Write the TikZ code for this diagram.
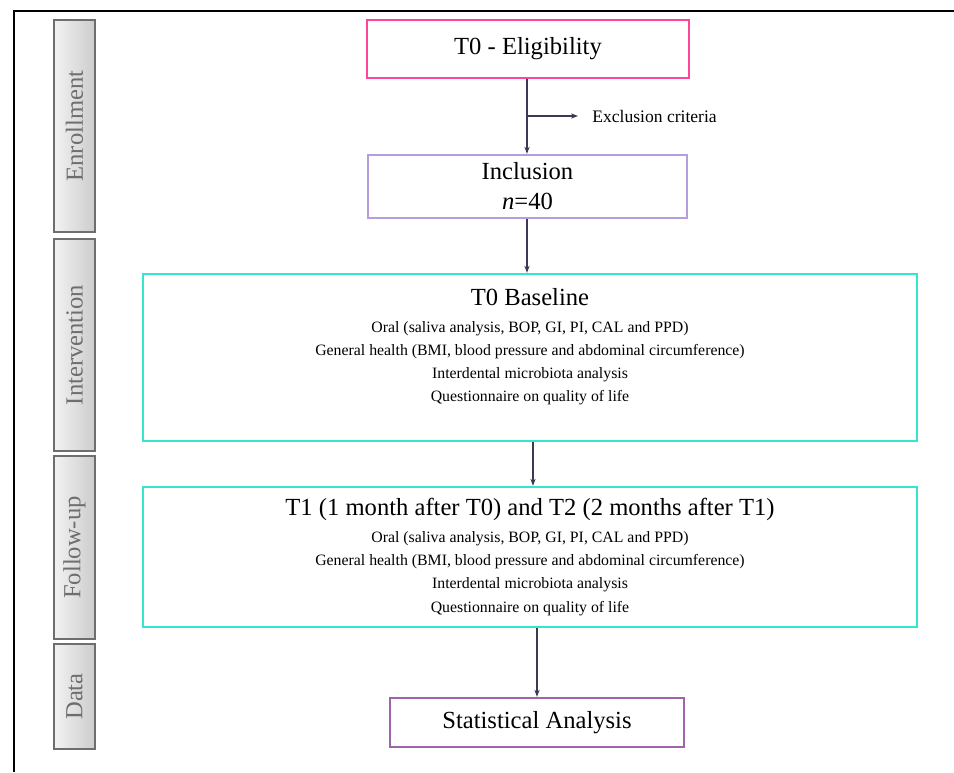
\documentclass[tikz,border=0pt]{standalone}
\usepackage{fontspec}
\setmainfont{Liberation Serif}
\usetikzlibrary{arrows.meta}
\usetikzlibrary{positioning}
\usetikzlibrary{fit}

\begin{document}
\begin{tikzpicture}[x=0.02cm, y=-0.02cm,
    %Option for small arrows
    >={Stealth[length=4pt,width=3pt]}, %
    flow/.style={->,color=flowline,line width=0.6pt},
    stepbox/.style={draw=#1, line width=1.4pt, align=center, inner sep=0pt,
        font=\fontsize{14}{17}\selectfont},
    phase/.style={draw=phaseline, line width=0.7pt, rotate=90, inner sep=0pt,
        left color=gray!10, right color=gray!40, minimum height=0.82cm,
        text=phaseline, font=\fontsize{14}{17}\selectfont},
    listtext/.style={align=center, inner sep=0pt, font=\fontsize{9}{13.2}\selectfont},
]
    % Colors
    \definecolor{pinkline}{HTML}{FF4499}
    \definecolor{lilacline}{HTML}{B59DE0}
    \definecolor{cyanline}{HTML}{33E6CC}
    \definecolor{plumline}{HTML}{A064AA}
    \definecolor{flowline}{HTML}{3A3A55}
    \definecolor{phaseline}{HTML}{6E6E6E}

    \useasboundingbox (0,0) rectangle (954,772);

    % Frame
    \draw[line width=1.2pt] (14,772) -- (14,11) -- (954,11);

    % Phases on the left
    \node[phase, minimum width=4.24cm] (enrol) at (74.5,126) {Enrollment};
    \node[phase, minimum width=4.24cm] (interv) at (74.5,345) {Intervention};
    \node[phase, minimum width=3.66cm] (follow) at (74.5,547.5) {Follow-up};
    \node[phase, minimum width=2.1cm] (data) at (74.5,696.5) {Data};

    % Steps
    \node[stepbox=pinkline, minimum width=6.44cm, minimum height=1.16cm] (elig) at (528,49) {T0 - Eligibility};
    \node[stepbox=lilacline, minimum width=6.38cm, minimum height=1.26cm] (incl) at (527.5,186.5) {Inclusion\\ \textit{n}=40};

    \node[listtext] (baseT) at (530,347) {{\fontsize{14}{17}\selectfont T0 Baseline}\\[2pt]
        Oral (saliva analysis, BOP, GI, PI, CAL and PPD)\\
        General health (BMI, blood pressure and abdominal circumference)\\
        Interdental microbiota analysis\\
        Questionnaire on quality of life};
    \node[draw=cyanline, line width=1.4pt, inner sep=0pt, fit={(143,274) (917,441)}] (base) {};

    \node[stepbox=cyanline, listtext, minimum width=15.48cm, minimum height=2.8cm] (fup) at (530,557) {{\fontsize{14}{17}\selectfont T1 (1 month after T0) and T2 (2 months after T1)}\\[2pt]
        Oral (saliva analysis, BOP, GI, PI, CAL and PPD)\\
        General health (BMI, blood pressure and abdominal circumference)\\
        Interdental microbiota analysis\\
        Questionnaire on quality of life};

    \node[stepbox=plumline, minimum width=5.88cm, minimum height=0.98cm] (stat) at (537,722.5) {Statistical Analysis};

    % Exclusion branch
    \coordinate (split) at (527,116);
    \node[right=1.3cm of split, inner sep=0pt, font=\fontsize{10}{12}\selectfont] (excl) {Exclusion criteria};

    % Arrows
    \draw[flow] (elig.south -| split) -- (incl.north -| split);
    \draw[flow] (split) -- ([xshift=-0.28cm]excl.west);
    \draw[flow] (incl.south -| split) -- (base.north -| split);
    \draw[flow] ([xshift=0.06cm]base.south) -- ([xshift=0.06cm]fup.north);
    \draw[flow] (fup.south -| stat.north) -- (stat.north);
\end{tikzpicture}
\end{document}
